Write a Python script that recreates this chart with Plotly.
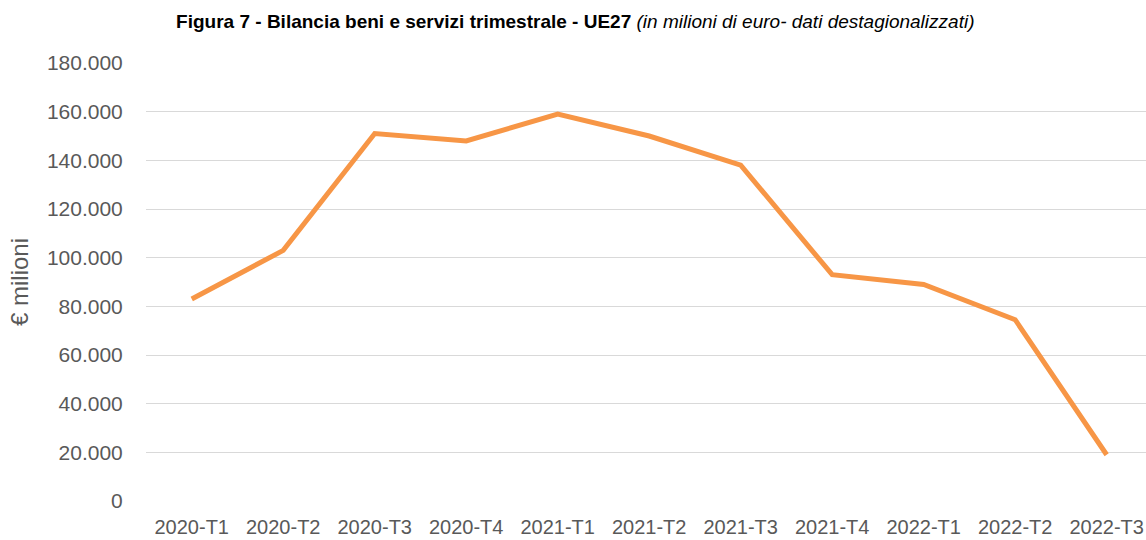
import plotly.graph_objects as go

categories = ["2020-T1", "2020-T2", "2020-T3", "2020-T4", "2021-T1", "2021-T2",
              "2021-T3", "2021-T4", "2022-T1", "2022-T2", "2022-T3"]
values = [83000, 103000, 151000, 148000, 159000, 150000, 138000, 93000, 89000, 74500, 19000]
y_ticks = [0, 20000, 40000, 60000, 80000, 100000, 120000, 140000, 160000, 180000]

FONT = "Liberation Sans"

fig = go.Figure()
fig.add_trace(go.Scatter(
    x=list(range(len(categories))), y=values, mode="lines",
    line=dict(color="#F79646", width=5), hoverinfo="x+y",
))

fig.update_layout(
    width=1146, height=540,
    paper_bgcolor="white", plot_bgcolor="white",
    separators=",.",
    margin=dict(l=146, r=0, t=63, b=39, autoexpand=False),
    showlegend=False,
    title=dict(
        text="<b>Figura 7 - Bilancia beni e servizi trimestrale - UE27</b> <i>(in milioni di euro- dati destagionalizzati)</i>",
        x=0.502, xref="container", xanchor="center", y=0.96, yref="container", yanchor="middle",
        font=dict(family=FONT, size=19, color="#000000"),
    ),
    xaxis=dict(
        tickmode="array", tickvals=list(range(len(categories))), ticktext=categories,
        range=[-0.5, 10.43], showgrid=False, zeroline=False, showline=False,
        ticks="outside", ticklen=8, tickcolor="rgba(0,0,0,0)", automargin=False,
        tickfont=dict(family=FONT, size=20, color="#595959"),
    ),
    yaxis=dict(
        range=[0, 180000], tickmode="array", tickvals=y_ticks,
        tickformat=",d", showgrid=True, gridcolor="#D9D9D9", gridwidth=1.3,
        zeroline=False, showline=False, automargin=False,
        ticks="outside", ticklen=18, tickcolor="rgba(0,0,0,0)",
        tickfont=dict(family=FONT, size=21, color="#595959"),
        title=dict(text="€ milioni", font=dict(family=FONT, size=24, color="#595959"), standoff=11),
    ),
)

fig.write_html("out.html", config={"displayModeBar": False},
               post_script="document.body.style.margin='0';document.body.style.overflow='hidden';")
